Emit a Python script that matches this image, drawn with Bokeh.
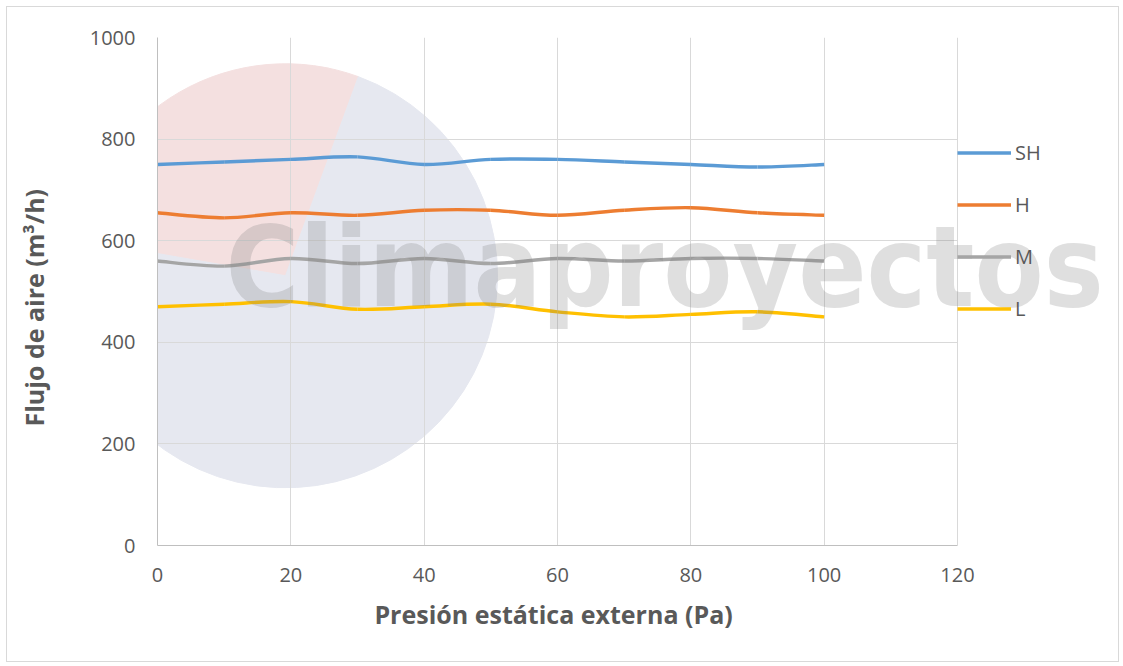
from bokeh.plotting import figure
from bokeh.models import Range1d, FixedTicker, Legend, LegendItem, Label
from bokeh.embed import file_html
from bokeh.resources import INLINE

# ---- data ----
presion = [0, 10, 20, 30, 40, 50, 60, 70, 80, 90, 100]
flujo_sh = [750, 755, 760, 765, 750, 760, 760, 755, 750, 745, 750]
flujo_h = [655, 645, 655, 650, 660, 660, 650, 660, 665, 655, 650]
flujo_m = [560, 550, 565, 555, 565, 555, 565, 560, 565, 565, 560]
flujo_l = [470, 475, 480, 465, 470, 475, 460, 450, 455, 460, 450]
series_names = ["SH", "H", "M", "L"]
series_colors = ["#5B9BD5", "#ED7D31", "#A5A5A5", "#FFC000"]
x_ticks = [0, 20, 40, 60, 80, 100, 120]
y_ticks = [0, 200, 400, 600, 800, 1000]

FONT = "Open Sans"
TXT = "#595959"
NB = "\u00a0"

# frame extends to the right edge so legend / watermark are not clipped;
# axis and grid are bounded to 0..120
p = figure(frame_width=961, frame_height=508,
           min_border_left=150, min_border_right=0,
           min_border_top=30, min_border_bottom=116,
           x_range=Range1d(0, 144.15), y_range=Range1d(0, 1000),
           output_backend="svg", toolbar_location=None,
           background_fill_color="white", border_fill_color="white")
p.styles = {"border": "1px solid #d9d9d9", "margin": "6px 0 0 6px"}
p.outline_line_color = None

# watermark background circle (decoration)
p.wedge(x=[19.2], y=[531], radius=212, radius_units="screen",
        start_angle=1.22, end_angle=2.97, color="#f4e0e0", level="image")
p.wedge(x=[19.2], y=[531], radius=212, radius_units="screen",
        start_angle=2.97, end_angle=1.22 + 6.283, color="#e6e8f0", level="image")

# axes
for ax in (p.xaxis[0], p.yaxis[0]):
    ax.axis_line_color = "#bfbfbf"
    ax.major_tick_line_color = None
    ax.minor_tick_line_color = None
    ax.major_tick_out = 0
    ax.major_tick_in = 0
    ax.major_label_text_font = FONT
    ax.major_label_text_font_size = "20px"
    ax.major_label_text_color = TXT
    ax.axis_label_text_font = FONT
    ax.axis_label_text_font_style = "bold"
    ax.axis_label_text_font_size = "25px"
    ax.axis_label_text_color = TXT

p.xaxis.ticker = FixedTicker(ticks=x_ticks)
p.yaxis.ticker = FixedTicker(ticks=y_ticks)
p.xaxis.bounds = (0, 120)
p.xaxis.major_label_standoff = 22
p.yaxis.major_label_standoff = 22
# trailing no-break spaces keep the titles centred where the reference has them
p.xaxis.axis_label = "Presión estática externa (Pa)" + NB * 26
p.yaxis.axis_label = "Flujo de aire (m³/h)" + NB * 5
p.xaxis.axis_label_standoff = 12
p.yaxis.axis_label_standoff = 36

p.xgrid.ticker = FixedTicker(ticks=x_ticks)
p.ygrid.ticker = FixedTicker(ticks=y_ticks)
p.ygrid.cross_bounds = (0, 120)
p.grid.grid_line_color = "#d9d9d9"
p.grid.grid_line_width = 1


def smooth_segments(xs, ys):
    n = len(xs)
    x0, y0, x1, y1, cx0, cy0, cx1, cy1 = [], [], [], [], [], [], [], []
    for i in range(n - 1):
        ip = max(i - 1, 0)
        inn = min(i + 2, n - 1)
        x0.append(xs[i]); y0.append(ys[i])
        x1.append(xs[i + 1]); y1.append(ys[i + 1])
        cx0.append(xs[i] + (xs[i + 1] - xs[ip]) / 6.0)
        cy0.append(ys[i] + (ys[i + 1] - ys[ip]) / 6.0)
        cx1.append(xs[i + 1] - (xs[inn] - xs[i]) / 6.0)
        cy1.append(ys[i + 1] - (ys[inn] - ys[i]) / 6.0)
    return dict(x0=x0, y0=y0, x1=x1, y1=y1, cx0=cx0, cy0=cy0, cx1=cx1, cy1=cy1)


items = []
for name, col, ys in zip(series_names, series_colors, [flujo_sh, flujo_h, flujo_m, flujo_l]):
    seg = smooth_segments(presion, ys)
    r = p.bezier(x0="x0", y0="y0", x1="x1", y1="y1", cx0="cx0", cy0="cy0",
                 cx1="cx1", cy1="cy1", source=seg, line_color=col, line_width=3.4)
    items.append(LegendItem(label=name, renderers=[r]))

legend = Legend(items=items, location=(800, 223), padding=0, margin=0,
                glyph_width=54, glyph_height=21, label_height=21, spacing=25,
                label_standoff=4, label_text_font=FONT, label_text_font_size="20px",
                label_text_color=TXT, background_fill_alpha=0, border_line_color=None)
p.add_layout(legend)

# watermark text (decoration, semi-transparent overlay)
wm = Label(x=10.2, y=549, text="Climaproyectos",
           text_font="'DejaVu Sans Condensed', 'Liberation Sans Narrow', 'Roboto Condensed', Roboto, sans-serif",
           text_font_style="bold", text_baseline="alphabetic",
           text_font_size="112px", text_color="#808080", text_alpha=0.25,
           level="overlay")
p.add_layout(wm)

open("out.html", "w").write(file_html(p, INLINE))
